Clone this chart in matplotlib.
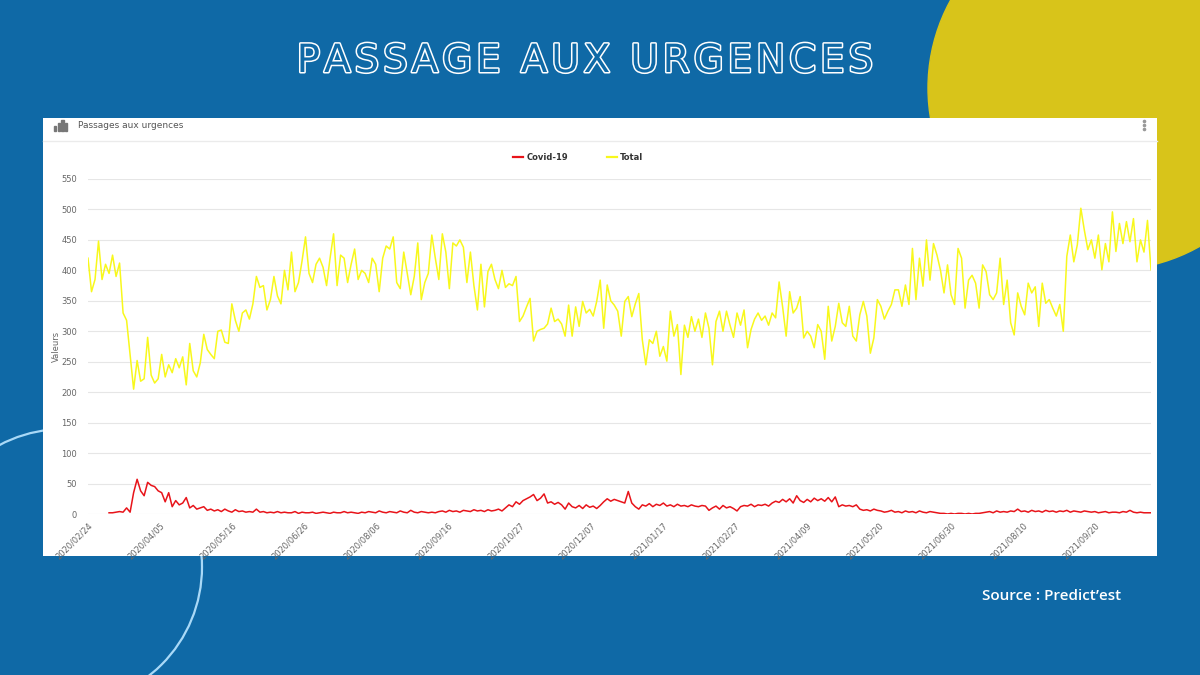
import matplotlib
matplotlib.use("Agg")
import matplotlib.pyplot as plt
import matplotlib.dates as mdates
import matplotlib.patheffects as pe
from matplotlib.patches import Circle, Rectangle
import pandas as pd

BG     = "#0F69A6"
YELLOW = "#D8C41A"
ARC    = "#A9D9F7"
GRID   = "#E6E6E6"
TXT    = "#666666"
RED    = "#E8141A"
TOTCOL = "#F8F81C"

# valeurs lues tous les 2 jours
START_TOTAL = "2020-02-24"
total = [
    420, 365, 385, 448, 385, 410, 395, 425, 390, 412,
    330, 318, 262, 205, 252, 218, 222, 290, 228, 215,
    222, 262, 225, 245, 232, 255, 240, 258, 212, 280,
    235, 225, 248, 295, 270, 262, 255, 300, 302, 282,
    280, 345, 318, 300, 330, 335, 320, 345, 390, 372,
    375, 335, 352, 390, 358, 345, 400, 368, 430, 365,
    380, 415, 455, 395, 380, 410, 420, 405, 375, 420,
    460, 375, 425, 420, 380, 410, 435, 385, 400, 395,
    380, 420, 410, 365, 420, 440, 435, 455, 380, 370,
    430, 395, 360, 390, 445, 352, 380, 395, 458, 420,
    385, 460, 430, 370, 445, 440, 450, 438, 380, 430,
    375, 335, 410, 340, 398, 410, 385, 370, 400, 372,
    378, 375, 390, 316, 325, 340, 354, 284, 300, 303,
    305, 312, 338, 316, 320, 312, 292, 343, 292, 340,
    308, 349, 330, 336, 325, 349, 384, 305, 376, 350,
    343, 333, 292, 349, 357, 324, 345, 362, 286, 245,
    286, 280, 300, 259, 275, 251, 333, 292, 311, 229,
    310, 290, 324, 300, 320, 290, 330, 305, 245, 316,
    333, 300, 333, 310, 290, 330, 310, 335, 273, 303,
    320, 330, 318, 325, 310, 330, 322, 381, 340, 292,
    365, 330, 338, 357, 289, 300, 292, 273, 311, 300,
    254, 341, 284, 308, 346, 314, 308, 341, 292, 284,
    327, 349, 325, 264, 289, 352, 341, 320, 333, 344,
    368, 368, 341, 376, 344, 436, 352, 420, 374, 450,
    384, 444, 425, 400, 363, 409, 360, 344, 436, 420,
    338, 384, 392, 379, 338, 409, 398, 360, 352, 363,
    420, 344, 384, 314, 294, 363, 341, 327, 379, 363,
    373, 308, 379, 346, 352, 338, 325, 344, 300, 423,
    458, 414, 442, 502, 466, 434, 450, 420, 458, 401,
    444, 414, 496, 431, 477, 444, 480, 447, 485, 414,
    450, 430, 482, 401,
]

START_COVID = "2020-03-07"
covid = [
    2, 2, 3, 4, 3, 10, 3, 35, 57, 38,
    30, 52, 47, 45, 38, 35, 20, 35, 12, 22,
    15, 18, 27, 10, 14, 8, 10, 12, 6, 8,
    5, 7, 4, 8, 5, 3, 7, 4, 5, 3,
    4, 3, 8, 3, 4, 2, 3, 2, 4, 2,
    3, 2, 2, 4, 1, 3, 2, 2, 3, 1,
    2, 3, 2, 1, 3, 2, 2, 4, 2, 3,
    2, 1, 3, 2, 4, 3, 2, 5, 3, 2,
    4, 3, 2, 5, 3, 2, 6, 3, 2, 4,
    3, 2, 3, 2, 4, 5, 3, 6, 4, 5,
    3, 6, 5, 4, 7, 5, 6, 4, 7, 5,
    6, 8, 5, 10, 15, 12, 20, 16, 22, 25,
    28, 32, 22, 26, 33, 18, 20, 16, 19, 15,
    8, 18, 12, 10, 14, 9, 15, 11, 13, 9,
    14, 20, 25, 21, 24, 22, 20, 18, 37, 18,
    12, 8, 15, 13, 17, 12, 16, 14, 18, 13,
    15, 12, 16, 13, 14, 12, 15, 13, 12, 14,
    13, 6, 10, 13, 8, 14, 10, 12, 9, 5,
    12, 14, 13, 16, 12, 15, 14, 16, 13, 18,
    21, 19, 24, 20, 25, 18, 30, 22, 19, 24,
    20, 26, 22, 25, 21, 27, 20, 28, 12, 15,
    13, 14, 12, 15, 8, 6, 7, 5, 8, 6,
    5, 3, 4, 6, 3, 4, 2, 5, 3, 4,
    2, 5, 3, 2, 4, 3, 2, 1, 1, 0,
    1, 0, 1, 1, 0, 1, 0, 1, 1, 2,
    3, 4, 2, 5, 3, 4, 3, 5, 4, 8,
    4, 5, 3, 6, 4, 5, 3, 6, 4, 5,
    3, 5, 4, 6, 3, 5, 4, 3, 5, 4,
    3, 4, 2, 3, 4, 2, 3, 3, 2, 4,
    3, 6, 3, 2, 3, 2, 2, 2,
]

yticks = [0, 50, 100, 150, 200, 250, 300, 350, 400, 450, 500, 550]

d_total = pd.date_range(START_TOTAL, periods=len(total), freq="2D")
d_covid = pd.date_range(START_COVID, periods=len(covid), freq="2D")
xticks = pd.date_range(START_TOTAL, d_total[-1], freq="41D")

fig = plt.figure(figsize=(12, 6.75), dpi=100, facecolor=BG)

# ---- fond : cercles, panneau blanc ----
bg = fig.add_axes([0, 0, 1, 1], zorder=0)
bg.set_xlim(0, 1200)
bg.set_ylim(675, 0)
bg.axis("off")
bg.add_patch(Circle((1110, 88), 182, color=YELLOW, zorder=1))
bg.add_patch(Circle((64, 567), 138, fill=False, edgecolor=ARC, lw=1.6, zorder=1))
bg.add_patch(Rectangle((43, 118), 1114, 438, facecolor="white", edgecolor="none", zorder=2))
bg.plot([43, 1157], [141, 141], color="#EBEBEB", lw=1, zorder=3)
for i, h in enumerate([5, 8, 11, 8]):
    bg.add_patch(Rectangle((54 + i * 3.6, 131 - h), 2.4, h, color="#777777", zorder=3))
bg.text(78, 125, "Passages aux urgences", fontsize=6.5, color="#555555",
        va="center", ha="left", zorder=3)
for yy in [121, 125, 129]:
    bg.plot([1144], [yy], marker="o", ms=1.6, color="#999999", zorder=3)

# legende
bg.plot([513, 523], [157, 157], color=RED, lw=1.6, zorder=3)
bg.text(527, 157, "Covid-19", fontsize=6, color="#333333", fontweight="bold",
        va="center", zorder=3)
bg.plot([607, 617], [157, 157], color=TOTCOL, lw=1.6, zorder=3)
bg.text(620, 157, "Total", fontsize=6, color="#333333", fontweight="bold",
        va="center", zorder=3)

# titre en lettres creuses, légèrement espacées
title = "PASSAGE AUX URGENCES"
bg.text(585, 61, "\u200a".join(title), fontsize=28, color=BG, ha="center",
        va="center", family="DejaVu Sans",
        path_effects=[pe.withStroke(linewidth=2.2, foreground="white")], zorder=3)
bg.text(1052, 596, "Source : Predict\u2019est", fontsize=11, color="white",
        ha="center", va="center", family="Open Sans", fontweight="semibold", zorder=3)

# ---- graphique ----
ax = fig.add_axes([88 / 1200, 1 - 514 / 675, 1063 / 1200, 335 / 675], zorder=1)
ax.patch.set_alpha(0)
ax.plot(d_total, total, color=TOTCOL, lw=1.1, zorder=3)
ax.plot(d_covid, covid, color=RED, lw=1.1, zorder=4)

ax.set_ylim(0, 550)
ax.set_yticks(yticks)
ax.set_xlim(pd.Timestamp(START_TOTAL), d_total[-1])
ax.set_xticks(xticks)
ax.xaxis.set_major_formatter(mdates.DateFormatter("%Y/%m/%d"))
ax.grid(axis="y", color=GRID, lw=0.8)
ax.set_axisbelow(True)
for s in ax.spines.values():
    s.set_visible(False)
ax.tick_params(axis="y", length=0, pad=8, labelsize=6, labelcolor=TXT)
ax.tick_params(axis="x", length=0, pad=5, labelsize=6, labelcolor=TXT)
plt.setp(ax.get_xticklabels(), rotation=45, ha="right", rotation_mode="anchor")
ax.set_ylabel("Valeurs", fontsize=6, color=TXT, labelpad=0)

fig.savefig("out.png", dpi=100, facecolor=BG)
